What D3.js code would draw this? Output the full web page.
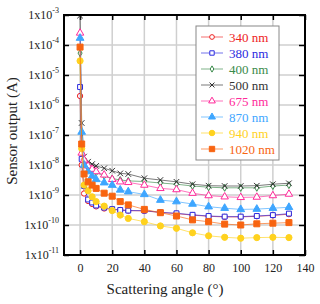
<!DOCTYPE html>
<html>
<head>
<meta charset="utf-8">
<script src="https://cdn.jsdelivr.net/npm/d3@7"></script>
<style>
  body { margin: 0; background: #fff; }
  svg { font-family: "Liberation Serif", "Times New Roman", serif; }
</style>
</head>
<body>
<div id="chart"></div>
<script>
// Scattering angles (deg)
const angles = [0, 1, 2.5, 5, 7.5, 10, 15, 20, 25, 30, 40, 50, 60, 70, 80, 90, 100, 110, 120, 130];

// log10 of sensor output (A)
const log340 = [-5.7, -8.0, -8.95, -9.2, -9.3, -9.38, -9.45, -9.48, -9.50, -9.52, -9.53, -9.58, -9.62, -9.67, -9.71, -9.73, -9.73, -9.71, -9.68, -9.64];
const log380 = [-5.4, -7.8, -8.7, -9.15, -9.25, -9.35, -9.42, -9.47, -9.50, -9.52, -9.52, -9.58, -9.61, -9.66, -9.70, -9.72, -9.72, -9.70, -9.67, -9.62];
const log400 = [-4.27, -7.4, -7.9, -8.08, -8.18, -8.25, -8.36, -8.45, -8.50, -8.53, -8.55, -8.60, -8.64, -8.70, -8.74, -8.76, -8.76, -8.76, -8.70, -8.67];
const log500 = [-3.02, -6.6, -7.72, -7.89, -7.97, -8.03, -8.11, -8.19, -8.28, -8.30, -8.44, -8.50, -8.56, -8.64, -8.69, -8.70, -8.70, -8.69, -8.64, -8.61];
const log675 = [-3.6, -7.6, -7.83, -8.03, -8.14, -8.22, -8.33, -8.48, -8.56, -8.58, -8.67, -8.78, -8.82, -8.94, -9.02, -9.06, -9.08, -9.07, -9.02, -8.97];
const log870 = [-3.77, -6.9, -8.0, -8.22, -8.37, -8.48, -8.59, -8.67, -8.83, -8.89, -8.98, -9.17, -9.22, -9.30, -9.39, -9.44, -9.48, -9.47, -9.44, -9.41];
const log940 = [-4.53, -7.45, -8.67, -8.86, -9.06, -9.22, -9.37, -9.52, -9.67, -9.78, -9.89, -10.03, -10.11, -10.26, -10.36, -10.41, -10.44, -10.42, -10.41, -10.42];
const log1020 = [-4.07, -7.3, -8.3, -8.56, -8.67, -8.78, -8.94, -9.04, -9.22, -9.33, -9.48, -9.59, -9.70, -9.83, -9.89, -9.97, -10.0, -9.96, -9.94, -9.92];

const seriesNames = ['340 nm', '380 nm', '400 nm', '500 nm', '675 nm', '870 nm', '940 nm', '1020 nm'];
const seriesLogs = [log340, log380, log400, log500, log675, log870, log940, log1020];

const xTicks = [0, 20, 40, 60, 80, 100, 120, 140];
const yExponents = [-3, -4, -5, -6, -7, -8, -9, -10, -11];

// marker style per series
const styles = [
  { color: '#ee2222', symbol: d3.symbolCircle, size: 22, filled: false },
  { color: '#2a2ae0', symbol: d3.symbolSquare, size: 24, filled: false },
  { color: '#3a8a4a', symbol: d3.symbolDiamond, size: 14, filled: false },
  { color: '#333333', symbol: d3.symbolX, size: 22, filled: false },
  { color: '#ff2a9a', symbol: d3.symbolTriangle, size: 24, filled: false },
  { color: '#3ea6ff', symbol: d3.symbolTriangle, size: 26, filled: true },
  { color: '#ffd21e', symbol: d3.symbolCircle, size: 30, filled: true },
  { color: '#f86410', symbol: d3.symbolSquare, size: 36, filled: true }
];

const W = 320, H = 304;
const m = { left: 64, right: 15, top: 15, bottom: 49 };

const svg = d3.select('#chart').append('svg')
  .attr('width', W).attr('height', H);

const x = d3.scaleLinear().domain([-10, 140]).range([m.left, W - m.right]);
const y = d3.scaleLog().domain([1e-11, 1e-3]).range([H - m.bottom, m.top]);

// grid
svg.append('g').selectAll('line.gx')
  .data(xTicks.filter(d => d < 140))
  .join('line')
  .attr('x1', d => x(d)).attr('x2', d => x(d))
  .attr('y1', m.top).attr('y2', H - m.bottom)
  .attr('stroke', '#cfcfcf').attr('stroke-width', 1.5);

svg.append('g').selectAll('line.gy')
  .data(yExponents.slice(1, -1))
  .join('line')
  .attr('x1', m.left).attr('x2', W - m.right)
  .attr('y1', d => y(Math.pow(10, d))).attr('y2', d => y(Math.pow(10, d)))
  .attr('stroke', '#cfcfcf').attr('stroke-width', 1.5);

// axes with inward ticks
const xAxis = d3.axisBottom(x).tickValues(xTicks).tickSize(-5).tickPadding(8).tickFormat(d3.format('d'));
const gx = svg.append('g').attr('transform', `translate(0,${H - m.bottom})`).call(xAxis);
gx.select('.domain').remove();
gx.selectAll('text').attr('font-size', 12).attr('fill', '#222')
  .attr('font-family', '"Liberation Serif", serif');
gx.selectAll('line').attr('stroke', '#000').attr('stroke-width', 1.5);

const gxTop = svg.append('g').attr('transform', `translate(0,${m.top})`)
  .call(d3.axisTop(x).tickValues(xTicks).tickSize(-5).tickFormat(''));
gxTop.select('.domain').remove();
gxTop.selectAll('line').attr('stroke', '#000').attr('stroke-width', 1.5);

const yVals = yExponents.map(e => Math.pow(10, e));
const gy = svg.append('g').attr('transform', `translate(${m.left},0)`)
  .call(d3.axisLeft(y).tickValues(yVals).tickSize(-5).tickFormat(''));
gy.select('.domain').remove();
gy.selectAll('line').attr('stroke', '#000').attr('stroke-width', 1.5);

const gyR = svg.append('g').attr('transform', `translate(${W - m.right},0)`)
  .call(d3.axisRight(y).tickValues(yVals).tickSize(-6).tickFormat(''));
gyR.select('.domain').remove();
gyR.selectAll('line').attr('stroke', '#000').attr('stroke-width', 1.5);

// y tick labels: 1x10^n
const yl = svg.append('g').selectAll('text')
  .data(yExponents)
  .join('text')
  .attr('x', m.left - 5)
  .attr('y', d => y(Math.pow(10, d)) + 4)
  .attr('text-anchor', 'end')
  .attr('font-size', 12)
  .attr('fill', '#222');
yl.append('tspan').text('1x10');
yl.append('tspan').attr('font-size', 8).attr('dy', -6).text(d => d);

// series
const defs = svg.append('defs');
defs.append('clipPath').attr('id', 'plotclip')
  .append('rect')
  .attr('x', m.left).attr('y', m.top)
  .attr('width', W - m.left - m.right).attr('height', H - m.top - m.bottom);

const plot = svg.append('g').attr('clip-path', 'url(#plotclip)');
const line = d3.line().x(d => x(d[0])).y(d => y(d[1]));

seriesLogs.forEach((logs, i) => {
  const st = styles[i];
  const pts = angles.map((a, j) => [a, Math.pow(10, logs[j])]);
  plot.append('path')
    .datum(pts)
    .attr('d', line)
    .attr('fill', 'none')
    .attr('stroke', st.color)
    .attr('stroke-opacity', 0.65)
    .attr('stroke-width', 1);
  plot.selectAll(null)
    .data(pts)
    .join('path')
    .attr('transform', d => `translate(${x(d[0])},${y(d[1])})`)
    .attr('d', d3.symbol(st.symbol, st.size))
    .attr('fill', st.filled ? st.color : (st.symbol === d3.symbolX ? 'none' : '#fff'))
    .attr('stroke', st.color)
    .attr('stroke-width', 1);
});

// frame
svg.append('rect')
  .attr('x', m.left).attr('y', m.top)
  .attr('width', W - m.left - m.right).attr('height', H - m.top - m.bottom)
  .attr('fill', 'none').attr('stroke', '#000').attr('stroke-width', 2);

// legend
const lg = svg.append('g');
lg.append('rect')
  .attr('x', 196).attr('y', 26).attr('width', 83).attr('height', 134)
  .attr('fill', '#fff').attr('stroke', '#888').attr('stroke-width', 1);

seriesNames.forEach((name, i) => {
  const st = styles[i];
  const cy = 37 + i * 16;
  lg.append('line')
    .attr('x1', 201).attr('x2', 223).attr('y1', cy).attr('y2', cy)
    .attr('stroke', st.color).attr('stroke-opacity', 0.65).attr('stroke-width', 1);
  lg.append('path')
    .attr('transform', `translate(212,${cy})`)
    .attr('d', d3.symbol(st.symbol, st.size * 0.8))
    .attr('fill', st.filled ? st.color : (st.symbol === d3.symbolX ? 'none' : '#fff'))
    .attr('stroke', st.color).attr('stroke-width', 1);
  lg.append('text')
    .attr('x', 229).attr('y', cy + 4.5)
    .attr('font-size', 13)
    .attr('fill', st.color)
    .text(name);
});

// axis titles
svg.append('text')
  .attr('x', 165).attr('y', 294)
  .attr('text-anchor', 'middle')
  .attr('font-size', 15)
  .attr('fill', '#222')
  .text('Scattering angle (°)');

svg.append('text')
  .attr('transform', 'translate(17,131) rotate(-90)')
  .attr('text-anchor', 'middle')
  .attr('font-size', 15)
  .attr('fill', '#222')
  .text('Sensor output (A)');
</script>
</body>
</html>
